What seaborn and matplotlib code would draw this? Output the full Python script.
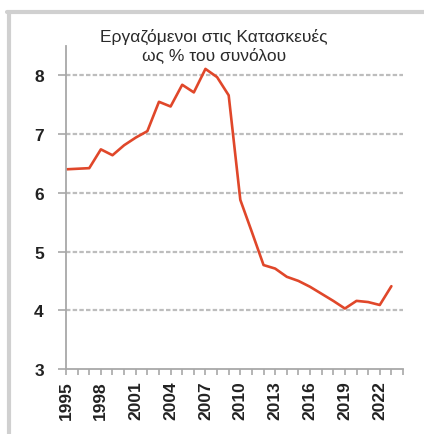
import matplotlib
matplotlib.use("Agg")
import matplotlib.pyplot as plt
import seaborn as sns
import pandas as pd
from matplotlib.lines import Line2D

years = list(range(1995, 2024))
share = [6.40, 6.41, 6.42, 6.74, 6.64, 6.81, 6.94, 7.05, 7.55, 7.47,
         7.84, 7.71, 8.11, 7.97, 7.66, 5.88, 5.33, 4.77, 4.71, 4.57,
         4.50, 4.40, 4.28, 4.16, 4.03, 4.16, 4.14, 4.09, 4.41]
title = "Εργαζόμενοι στις Κατασκευές\nως % του συνόλου"
xtick_years = list(range(1995, 2023, 3))
ytick_vals = [3, 4, 5, 6, 7, 8]

df = pd.DataFrame({"year": years, "share": share})

sns.set_style("white")
plt.rcParams['font.family'] = ['Liberation Sans', 'DejaVu Sans']

fig = plt.figure(figsize=(4.24, 4.35), dpi=100)
ax = fig.add_axes([66/424, 1-370/435, (403-66)/424, (370-47)/435])

sns.lineplot(data=df, x="year", y="share", ax=ax, color="#E0472A", linewidth=1.9)

ax.set_xlim(1995, 2024)
ax.set_ylim(3, 8.5)
ax.set_yticks(ytick_vals)
ax.set_yticklabels([str(v) for v in ytick_vals], fontsize=12.5, fontweight="bold", color="#222222")
ax.set_xticks(list(range(1995, 2025)))
ax.set_xticklabels([str(y) if y in xtick_years else "" for y in range(1995, 2025)],
                   rotation=90, fontsize=12.5, fontweight="bold", color="#222222")
ax.set_xlabel("")
ax.set_ylabel("")

for v in ytick_vals[1:]:
    ax.axhline(v, color="#bdbdbd", linewidth=1.6, linestyle=(0, (2, 1)), zorder=0)

for s in ["top", "right"]:
    ax.spines[s].set_visible(False)
for s in ["left", "bottom"]:
    ax.spines[s].set_color("#a8a8a8")
    ax.spines[s].set_linewidth(1.3)

ax.tick_params(axis="y", which="both", length=6, width=1.2, color="#a8a8a8", pad=10, left=True)
ax.tick_params(axis="x", which="both", length=4, width=1.2, color="#a8a8a8", pad=4, bottom=True)

fig.text(214/424, 1-46/435, title, ha="center", va="center", fontsize=12.5,
         color="#2a2a2a", linespacing=1.25)

# frame lines (top and left)
fig.add_artist(Line2D([7/424, 1], [1-13/435, 1-13/435], transform=fig.transFigure,
                      color="#d0d0d0", linewidth=3))
fig.add_artist(Line2D([8.5/424, 8.5/424], [0, 1-13/435], transform=fig.transFigure,
                      color="#d0d0d0", linewidth=3))

fig.savefig("out.png", dpi=100)
